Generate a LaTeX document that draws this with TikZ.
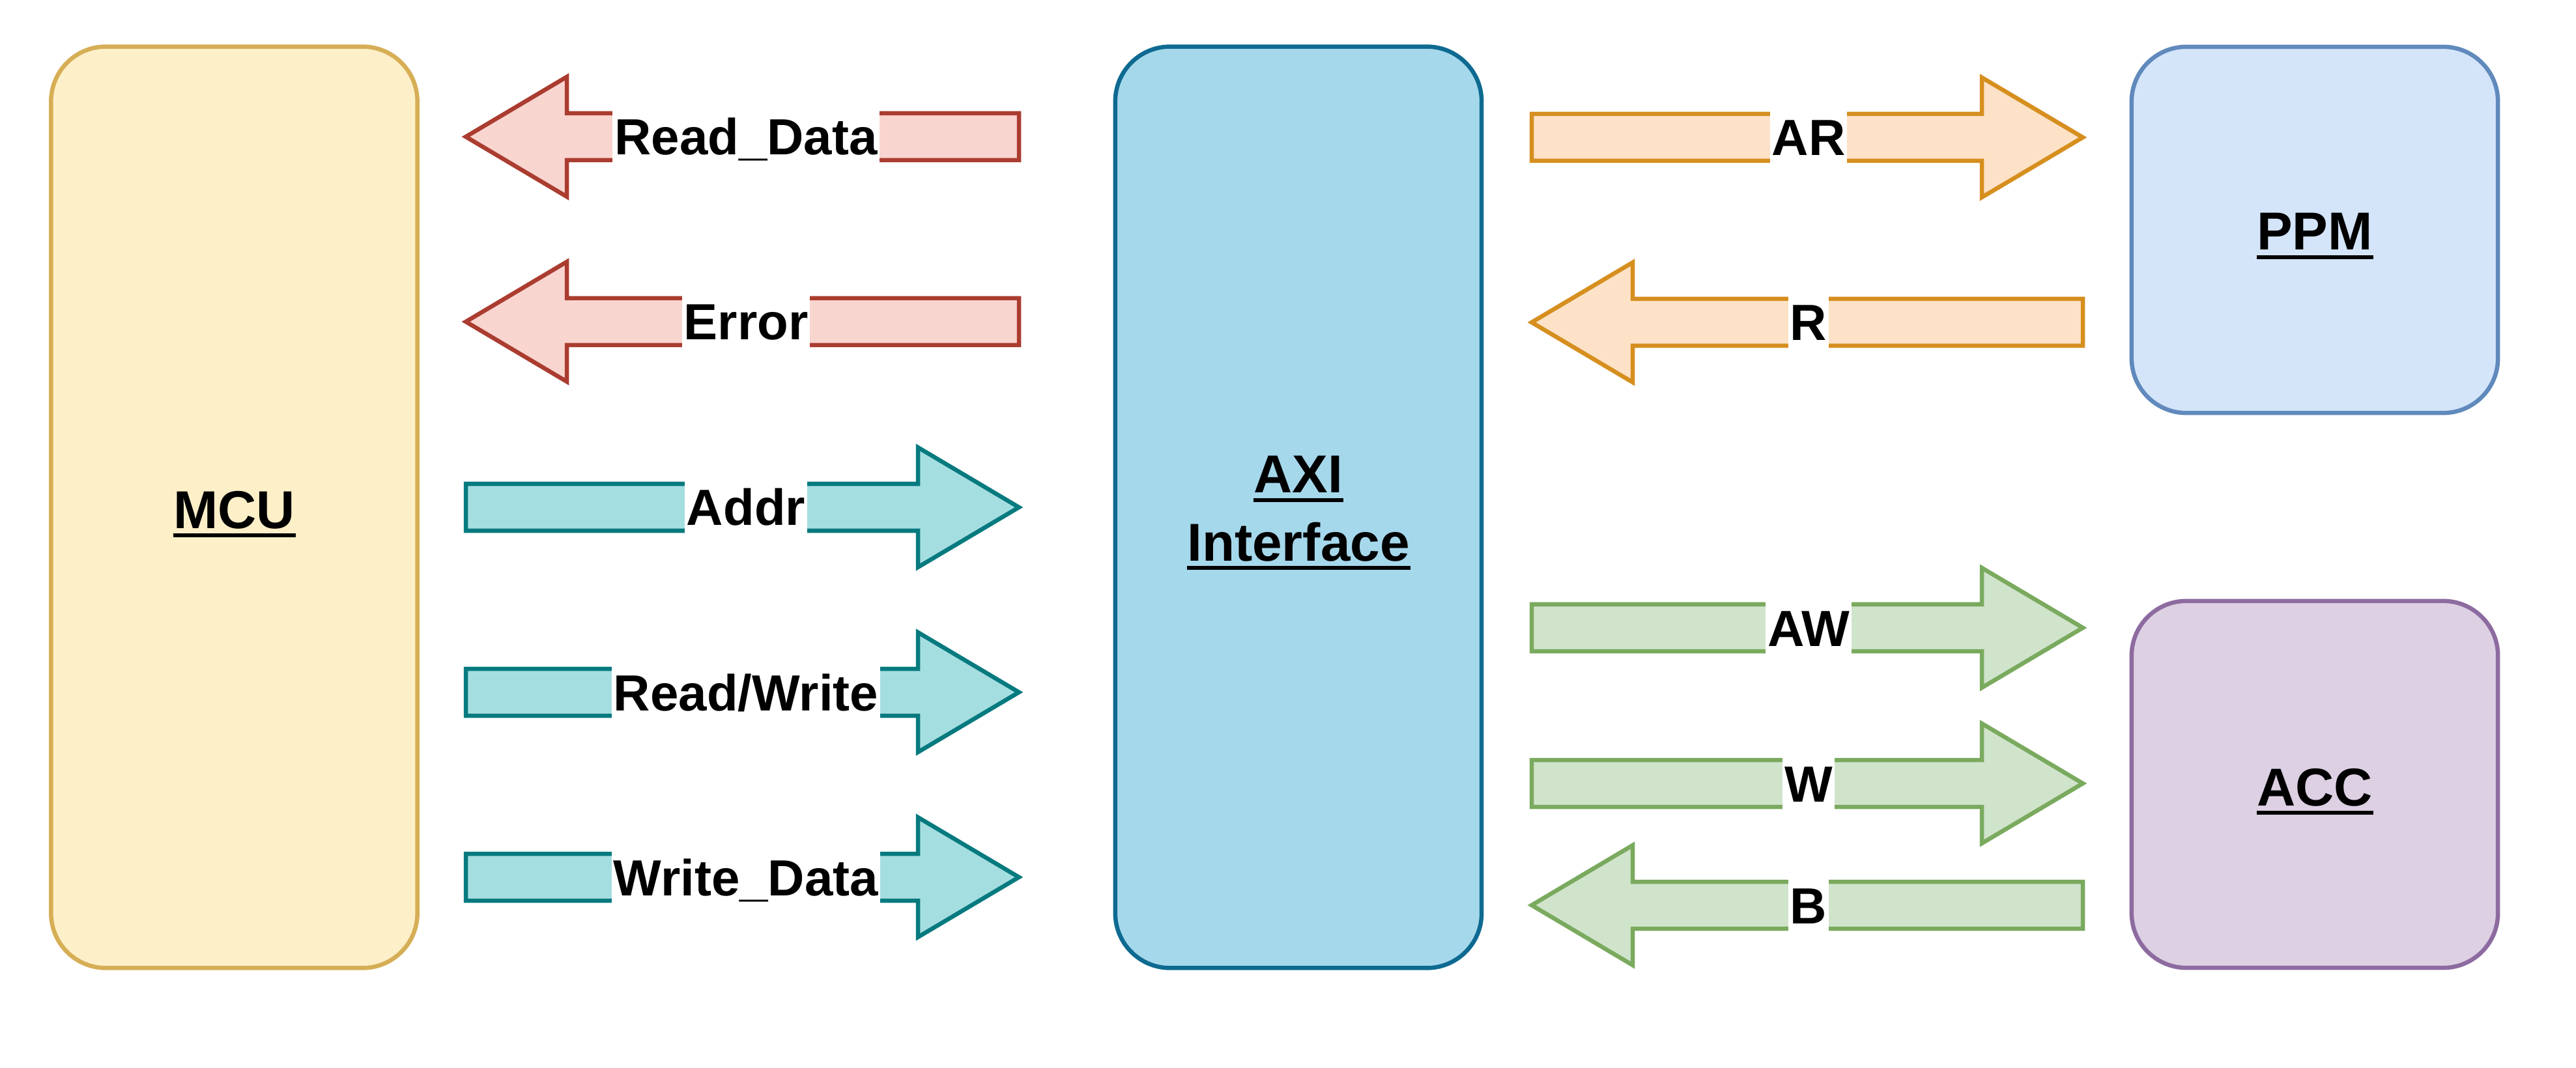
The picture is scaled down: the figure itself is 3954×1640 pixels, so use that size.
\documentclass[tikz,border=0pt]{standalone}
\usepackage{fontspec}
\setmainfont{Liberation Sans}
\definecolor{mcuF}{HTML}{FDEFC8}
\definecolor{mcuD}{HTML}{D6AE55}
\definecolor{axiF}{HTML}{A6D8EC}
\definecolor{axiD}{HTML}{0E6A91}
\definecolor{ppmF}{HTML}{D4E5FA}
\definecolor{ppmD}{HTML}{6089BC}
\definecolor{accF}{HTML}{DDD0E3}
\definecolor{accD}{HTML}{8D6BA0}
\definecolor{redF}{HTML}{F9D5D0}
\definecolor{redD}{HTML}{AB3C30}
\definecolor{tealF}{HTML}{A5DEE1}
\definecolor{tealD}{HTML}{077A7F}
\definecolor{orgF}{HTML}{FDE2C7}
\definecolor{orgD}{HTML}{D68F1F}
\definecolor{grnF}{HTML}{D0E4CC}
\definecolor{grnD}{HTML}{7AAA5E}
% right-pointing fat arrow: tail x, tip x, centre y, style
\newcommand\fatR[4]{\draw[sig,#4] (#1,#3-36) -- (#2-155,#3-36) -- (#2-155,#3-92) -- (#2,#3) -- (#2-155,#3+92) -- (#2-155,#3+36) -- (#1,#3+36) -- cycle;}
% left-pointing fat arrow: tail x, tip x, centre y, style
\newcommand\fatL[4]{\draw[sig,#4] (#1,#3-36) -- (#2+155,#3-36) -- (#2+155,#3-92) -- (#2,#3) -- (#2+155,#3+92) -- (#2+155,#3+36) -- (#1,#3+36) -- cycle;}
\begin{document}
\begin{tikzpicture}[x=0.01cm,y=-0.01cm,
  blk/.style={draw, line width=0.065cm, rounded corners=0.84cm, inner sep=0, minimum width=5.62cm},
  blab/.style={font=\fontsize{23.3}{28}\selectfont\bfseries, inner sep=0, anchor=base},
  ul/.style={line width=0.06cm},
  alab/.style={font=\fontsize{22.2}{26}\selectfont\bfseries, fill=white, inner xsep=0.03cm, inner ysep=0, text height=0.7cm, text depth=0.15cm, anchor=base},
  sig/.style={line width=0.065cm},
  red/.style={fill=redF, draw=redD},
  teal/.style={fill=tealF, draw=tealD},
  org/.style={fill=orgF, draw=orgD},
  grn/.style={fill=grnF, draw=grnD}]
\useasboundingbox (0,0) rectangle (3954,1640);
\fill[white] (0,0) rectangle (3954,1640);

% blocks
\node[blk, fill=mcuF, draw=mcuD, minimum height=14.14cm] (mcu) at (359.5,779) {};
\node[blk, fill=axiF, draw=axiD, minimum height=14.14cm] (axi) at (1993,779) {};
\node[blk, fill=ppmF, draw=ppmD, minimum height=5.62cm] (ppm) at (3553,353) {};
\node[blk, fill=accF, draw=accD, minimum height=5.63cm] (acc) at (3553,1204.5) {};

% block labels
\node[blab] (tmcu) at (359.5,811) {MCU};
\node[blab] (taxi1) at (1993,757) {AXI};
\node[blab] (taxi2) at (1993,861) {Interface};
\node[blab] (tppm) at (3553,384) {PPM};
\node[blab] (tacc) at (3553,1237) {ACC};
\foreach \t in {tmcu,taxi1,taxi2,tppm,tacc}
  \draw[ul] ([yshift=-0.11cm]\t.base west) -- ([yshift=-0.11cm]\t.base east);

% MCU <-> AXI signals
\fatL{1564}{715}{210}{red}
\fatL{1564}{715}{494}{red}
\fatR{715}{1564}{779}{teal}
\fatR{715}{1564}{1063}{teal}
\fatR{715}{1564}{1347}{teal}
\node[alab] (lrd) at (1145,238) {Read\_Data};
\node[alab] (ler) at (1145,522) {Error};
\node[alab] (lad) at (1145,807) {Addr};
\node[alab] (lrw) at (1145,1091) {Read/Write};
\node[alab] (lwd) at (1145,1375) {Write\_Data};

% AXI <-> PPM / ACC channels
\fatR{2351}{3197}{211}{org}
\fatL{3197}{2351}{495}{org}
\fatR{2351}{3197}{964}{grn}
\fatR{2351}{3197}{1203}{grn}
\fatL{3197}{2351}{1390}{grn}
\node[alab] (lar) at (2776,239) {AR};
\node[alab] (lr) at (2776,523) {R};
\node[alab] (law) at (2776,992) {AW};
\node[alab] (lw) at (2776,1231) {W};
\node[alab] (lb) at (2776,1418) {B};
\end{tikzpicture}
\end{document}
